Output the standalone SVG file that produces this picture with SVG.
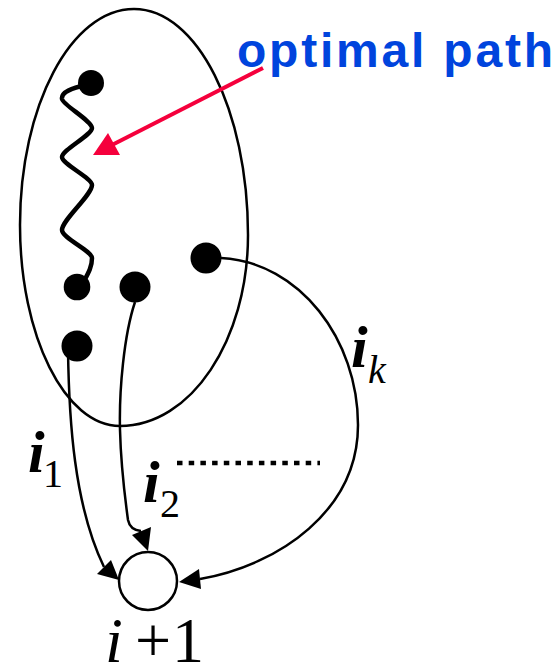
<svg xmlns="http://www.w3.org/2000/svg" width="558" height="667" viewBox="0 0 558 667">
<style>
.ln{fill:none;stroke:#000;stroke-width:2.5}
.dot{fill:#000}
.head{fill:#000;stroke:none}
.lbl{font-family:"Liberation Serif","Times New Roman",serif;font-style:italic;font-weight:bold;font-size:60px;fill:#000}
.sub{font-family:"Liberation Serif","Times New Roman",serif;font-size:40px;fill:#000}
</style>
<rect width="558" height="667" fill="#fff"/>
<g id="set">
<path class="ln" d="M134,9 C197,9 248,110 248,235 C248,340 191,426 120,426 C65,426 20,336 20,225 C20,106 71,9 134,9 Z"/>
</g>
<g id="optimal-path">
<path d="M86,85 C72,88 61,92 62,99 C63,105 92,121 92,128 C92,135 62,150 62,157 C62,164 92,178 92,185 C92,195 62,220 62,230 C62,238 92,251 92,258 C92,266 89,272 84,281" fill="none" stroke="#000" stroke-width="4.5" stroke-linecap="round" stroke-linejoin="round"/>
</g>
<g id="connectors">
<path class="ln" d="M68,350 C69,420 74,505 104,567"/>
<polygon class="head" points="97,574 111,560 119,580"/>
<path class="ln" d="M135,302 C124,335 119,390 120,430 C121,470 126,505 128,520 Q130,530 141,531"/>
<polygon class="head" points="132,535 151,527 148,551"/>
<path class="ln" d="M221,258 C300,262 358,340 358,425 C358,510 280,565 200,579"/>
<polygon class="head" points="199,569 201,589 179,582"/>
<line x1="177" y1="463" x2="320" y2="463" stroke="#000" stroke-width="4.5" stroke-dasharray="5.5 6.2"/>
</g>
<g id="annotation">
<line x1="263" y1="68" x2="110" y2="146" stroke="#f5003c" stroke-width="4"/>
<polygon points="108,133 120,155 93,155" fill="#f5003c"/>
<text x="237" y="67" font-family="Liberation Sans, Arial, sans-serif" font-weight="bold" font-size="48" fill="#0044dd" textLength="316" lengthAdjust="spacing">optimal path</text>
</g>
<g id="n-top"><circle class="dot" cx="91" cy="83" r="13"/></g>
<g id="n-end"><circle class="dot" cx="77" cy="287" r="13.3"/></g>
<g id="n-2"><circle class="dot" cx="135" cy="287" r="15.5"/></g>
<g id="n-k"><circle class="dot" cx="206" cy="258" r="15.5"/></g>
<g id="n-1"><circle class="dot" cx="77" cy="346" r="15.5"/></g>
<g id="n-next">
<circle cx="148" cy="581" r="29" fill="#fff" stroke="#000" stroke-width="2.5"/>
</g>
<g id="labels">
<text class="lbl" x="28" y="472">i</text><text class="sub" x="43" y="487">1</text>
<text class="lbl" x="143" y="502">i</text><text class="sub" x="160" y="517">2</text>
<text class="lbl" x="351" y="367">i</text><text class="sub" x="368" y="383" font-style="italic">k</text>
<text x="105" y="662" font-family="Liberation Serif, Times New Roman, serif" font-size="64" fill="#000"><tspan font-style="italic">i</tspan><tspan x="135">+</tspan><tspan x="172">1</tspan></text>
</g>
</svg>
